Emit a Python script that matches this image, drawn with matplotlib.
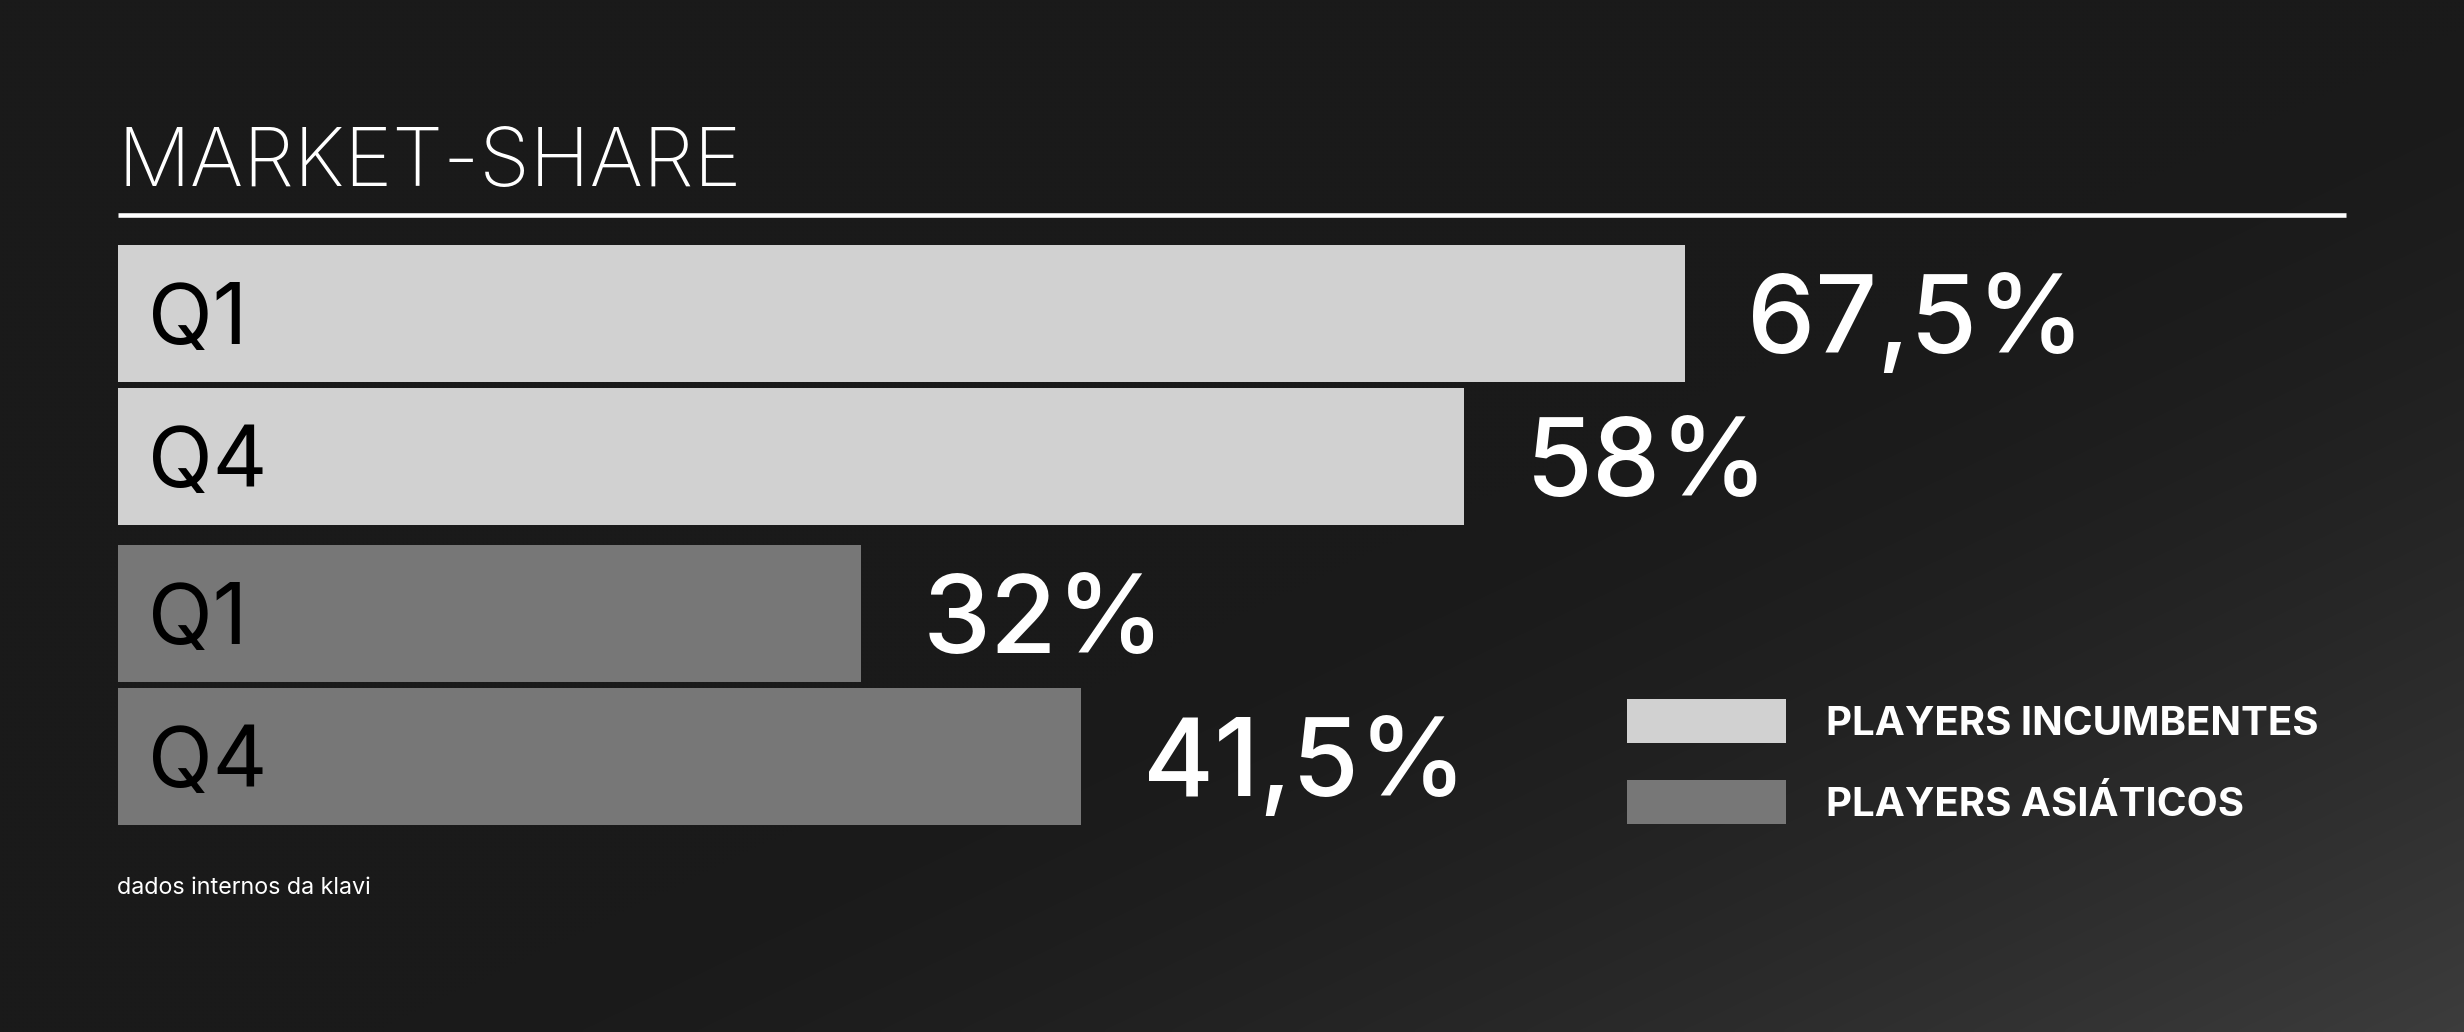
import numpy as np
import matplotlib
matplotlib.use("Agg")
import matplotlib.pyplot as plt
from matplotlib.patches import Rectangle

# ---- data ----
title = "MARKET-SHARE"
quarters = ["Q1", "Q4"]
series_names = ["PLAYERS INCUMBENTES", "PLAYERS ASIÁTICOS"]
incumbentes = [67.5, 58.0]
asiaticos = [32.0, 41.5]
series_colors = ["#d1d1d1", "#777777"]
footnote = "dados internos da klavi"

W, H = 2464, 1032
DPI = 100
plt.rcParams['font.family'] = ['Inter', 'DejaVu Sans']

fig = plt.figure(figsize=(W / DPI, H / DPI), dpi=DPI)
fig.patch.set_facecolor("#1a1a1a")

# overlay axes in pixel coordinates (background + decorations)
ov = fig.add_axes([0, 0, 1, 1])
ov.set_xlim(0, W)
ov.set_ylim(H, 0)
ov.axis("off")
ov.set_zorder(0)

# background gradient
u = np.linspace(0, 1, 616)[None, :]
v = np.linspace(0, 1, 258)[:, None]
s = np.clip(1.15 * u + 1.0 * v - 1.18, 0, 1)
t = s ** 1.5
b = (26 + 36 * t) / 255.0
img = np.dstack([b, b, b])
ov.imshow(img, extent=(0, W, H, 0), aspect="auto", interpolation="bilinear", zorder=0)

# title and rule
ov.text(117, 186, title, color="white", fontsize=58.5, fontweight="light",
        ha="left", va="baseline", zorder=2)
ov.plot([118, 2346], [215, 215], color="white", lw=3.3, solid_capstyle="butt", zorder=2)

# footnote
ov.text(117, 894, footnote, color="white", fontsize=16.8, fontweight="normal",
        ha="left", va="baseline", zorder=2)

# legend
leg_y = [699, 780]
for i, (name, col) in enumerate(zip(series_names, series_colors)):
    ov.add_patch(Rectangle((1627, leg_y[i]), 159, 44, facecolor=col, edgecolor="none", zorder=2))
    ov.text(1826, leg_y[i] + 36, name, color="white", fontsize=29, fontweight="bold",
            ha="left", va="baseline", zorder=2)

# bars axes
ax = fig.add_axes([118 / W, 1 - 825 / H, 2228 / W, 580 / H])
ax.set_zorder(1)
ax.patch.set_alpha(0)
ax.axis("off")

pitch_gap = 157 / 143
positions = [0, 1, 1 + pitch_gap, 2 + pitch_gap]
values = incumbentes + asiaticos
colors = [series_colors[0]] * len(incumbentes) + [series_colors[1]] * len(asiaticos)
labels = quarters + quarters
bar_h = 137 / 143

ax.barh(positions, values, height=bar_h, color=colors, edgecolor="none")
ax.set_xlim(0, 2228 / 23.21)
ax.set_ylim(positions[-1] + bar_h / 2, positions[0] - bar_h / 2)

half_cap_q = 31 / 143
half_cap_v = 40 / 143
for p, val, lab in zip(positions, values, labels):
    ax.annotate(lab, xy=(0, p + half_cap_q), xytext=(30, 0), textcoords="offset pixels",
                color="black", fontsize=61, fontweight="normal", ha="left", va="baseline")
    txt = (f"{val:.1f}".replace(".", ",") if val % 1 else f"{int(val)}") + "%"
    ax.annotate(txt, xy=(val, p + half_cap_v), xytext=(62, 0), textcoords="offset pixels",
                color="white", fontsize=78, fontweight="medium", ha="left", va="baseline")

fig.savefig("out.png", dpi=DPI, facecolor=fig.get_facecolor())
